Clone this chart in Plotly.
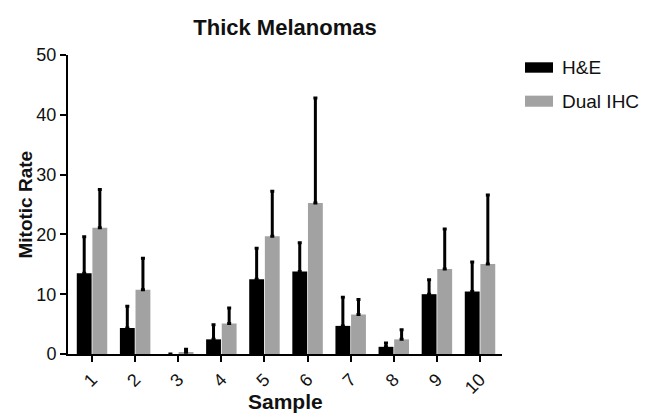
import plotly.graph_objects as go

samples = ["1", "2", "3", "4", "5", "6", "7", "8", "9", "10"]
series_names = ["H&E", "Dual IHC"]
he_values = [13.5, 4.35, 0.0, 2.45, 12.5, 13.8, 4.7, 1.2, 10.0, 10.45]
he_err = [6.1, 3.65, 0.0, 2.45, 5.2, 4.8, 4.8, 0.65, 2.4, 4.95]
dual_values = [21.1, 10.75, 0.3, 5.1, 19.7, 25.25, 6.6, 2.45, 14.2, 15.05]
dual_err = [6.4, 5.25, 0.5, 2.6, 7.5, 17.55, 2.5, 1.6, 6.7, 11.55]
y_ticks = [0, 10, 20, 30, 40, 50]
colors = ["#000000", "#a2a2a2"]

FONT = "Arial, Liberation Sans, Helvetica, sans-serif"

fig = go.Figure()
for name, vals, errs, col in zip(series_names, [he_values, dual_values], [he_err, dual_err], colors):
    fig.add_trace(go.Bar(
        x=samples, y=vals, name=name, marker=dict(color=col, line=dict(width=0)),
        error_y=dict(type="data", array=errs, arrayminus=[0] * len(errs), symmetric=False,
                     color="#000000", thickness=3, width=2),
        showlegend=False,
    ))

# custom legend (swatch + label)
leg_y = [(0.9756, 0.9408, 0.958), (0.864, 0.827, 0.846)]
for (y1, y0, yc), name, col in zip(leg_y, series_names, colors):
    fig.add_shape(type="rect", xref="paper", yref="paper", x0=1.053, x1=1.1175, y0=y0, y1=y1,
                  fillcolor=col, line=dict(width=0))
    fig.add_annotation(text=name, xref="paper", yref="paper", x=1.1336, y=yc, xanchor="left",
                       yanchor="middle", showarrow=False, font=dict(family=FONT, size=19, color="#111"))

fig.add_annotation(text="<b>Mitotic Rate</b>", xref="paper", yref="paper", x=-0.099, y=0.5,
                   textangle=-90, showarrow=False, xanchor="center", yanchor="middle",
                   font=dict(family=FONT, size=19, color="#111"))
fig.add_annotation(text="<b>Sample</b>", xref="paper", yref="paper", x=0.5, y=-0.16,
                   showarrow=False, xanchor="center", yanchor="middle",
                   font=dict(family=FONT, size=21, color="#111"))

fig.update_layout(
    width=646, height=414,
    margin=dict(l=68, r=144, t=55, b=60),
    paper_bgcolor="white", plot_bgcolor="white",
    barmode="group", bargap=0.275, bargroupgap=0.05,
    title=dict(text="<b>Thick Melanomas</b>", x=0.5, xref="paper", y=1 - 27 / 414,
               yref="container", xanchor="center", yanchor="middle",
               font=dict(family=FONT, size=22, color="#111")),
    font=dict(family=FONT, color="#111"),
    xaxis=dict(range=[-0.557, 9.51], showline=True, linecolor="black", linewidth=2,
               ticks="outside", ticklen=6, tickwidth=2, tickcolor="black",
               tickangle=-45, tickfont=dict(size=18, family=FONT, color="#111"),
               showgrid=False, zeroline=False),
    yaxis=dict(range=[0, 50], tickvals=y_ticks, showline=True, linecolor="black", linewidth=2,
               ticks="outside", ticklen=6, tickwidth=2, tickcolor="black",
               tickfont=dict(size=18, family=FONT, color="#111"),
               showgrid=False, zeroline=False),
)

fig.write_html("out.html", config={"displayModeBar": False},
               post_script="document.body.style.margin='0';")
